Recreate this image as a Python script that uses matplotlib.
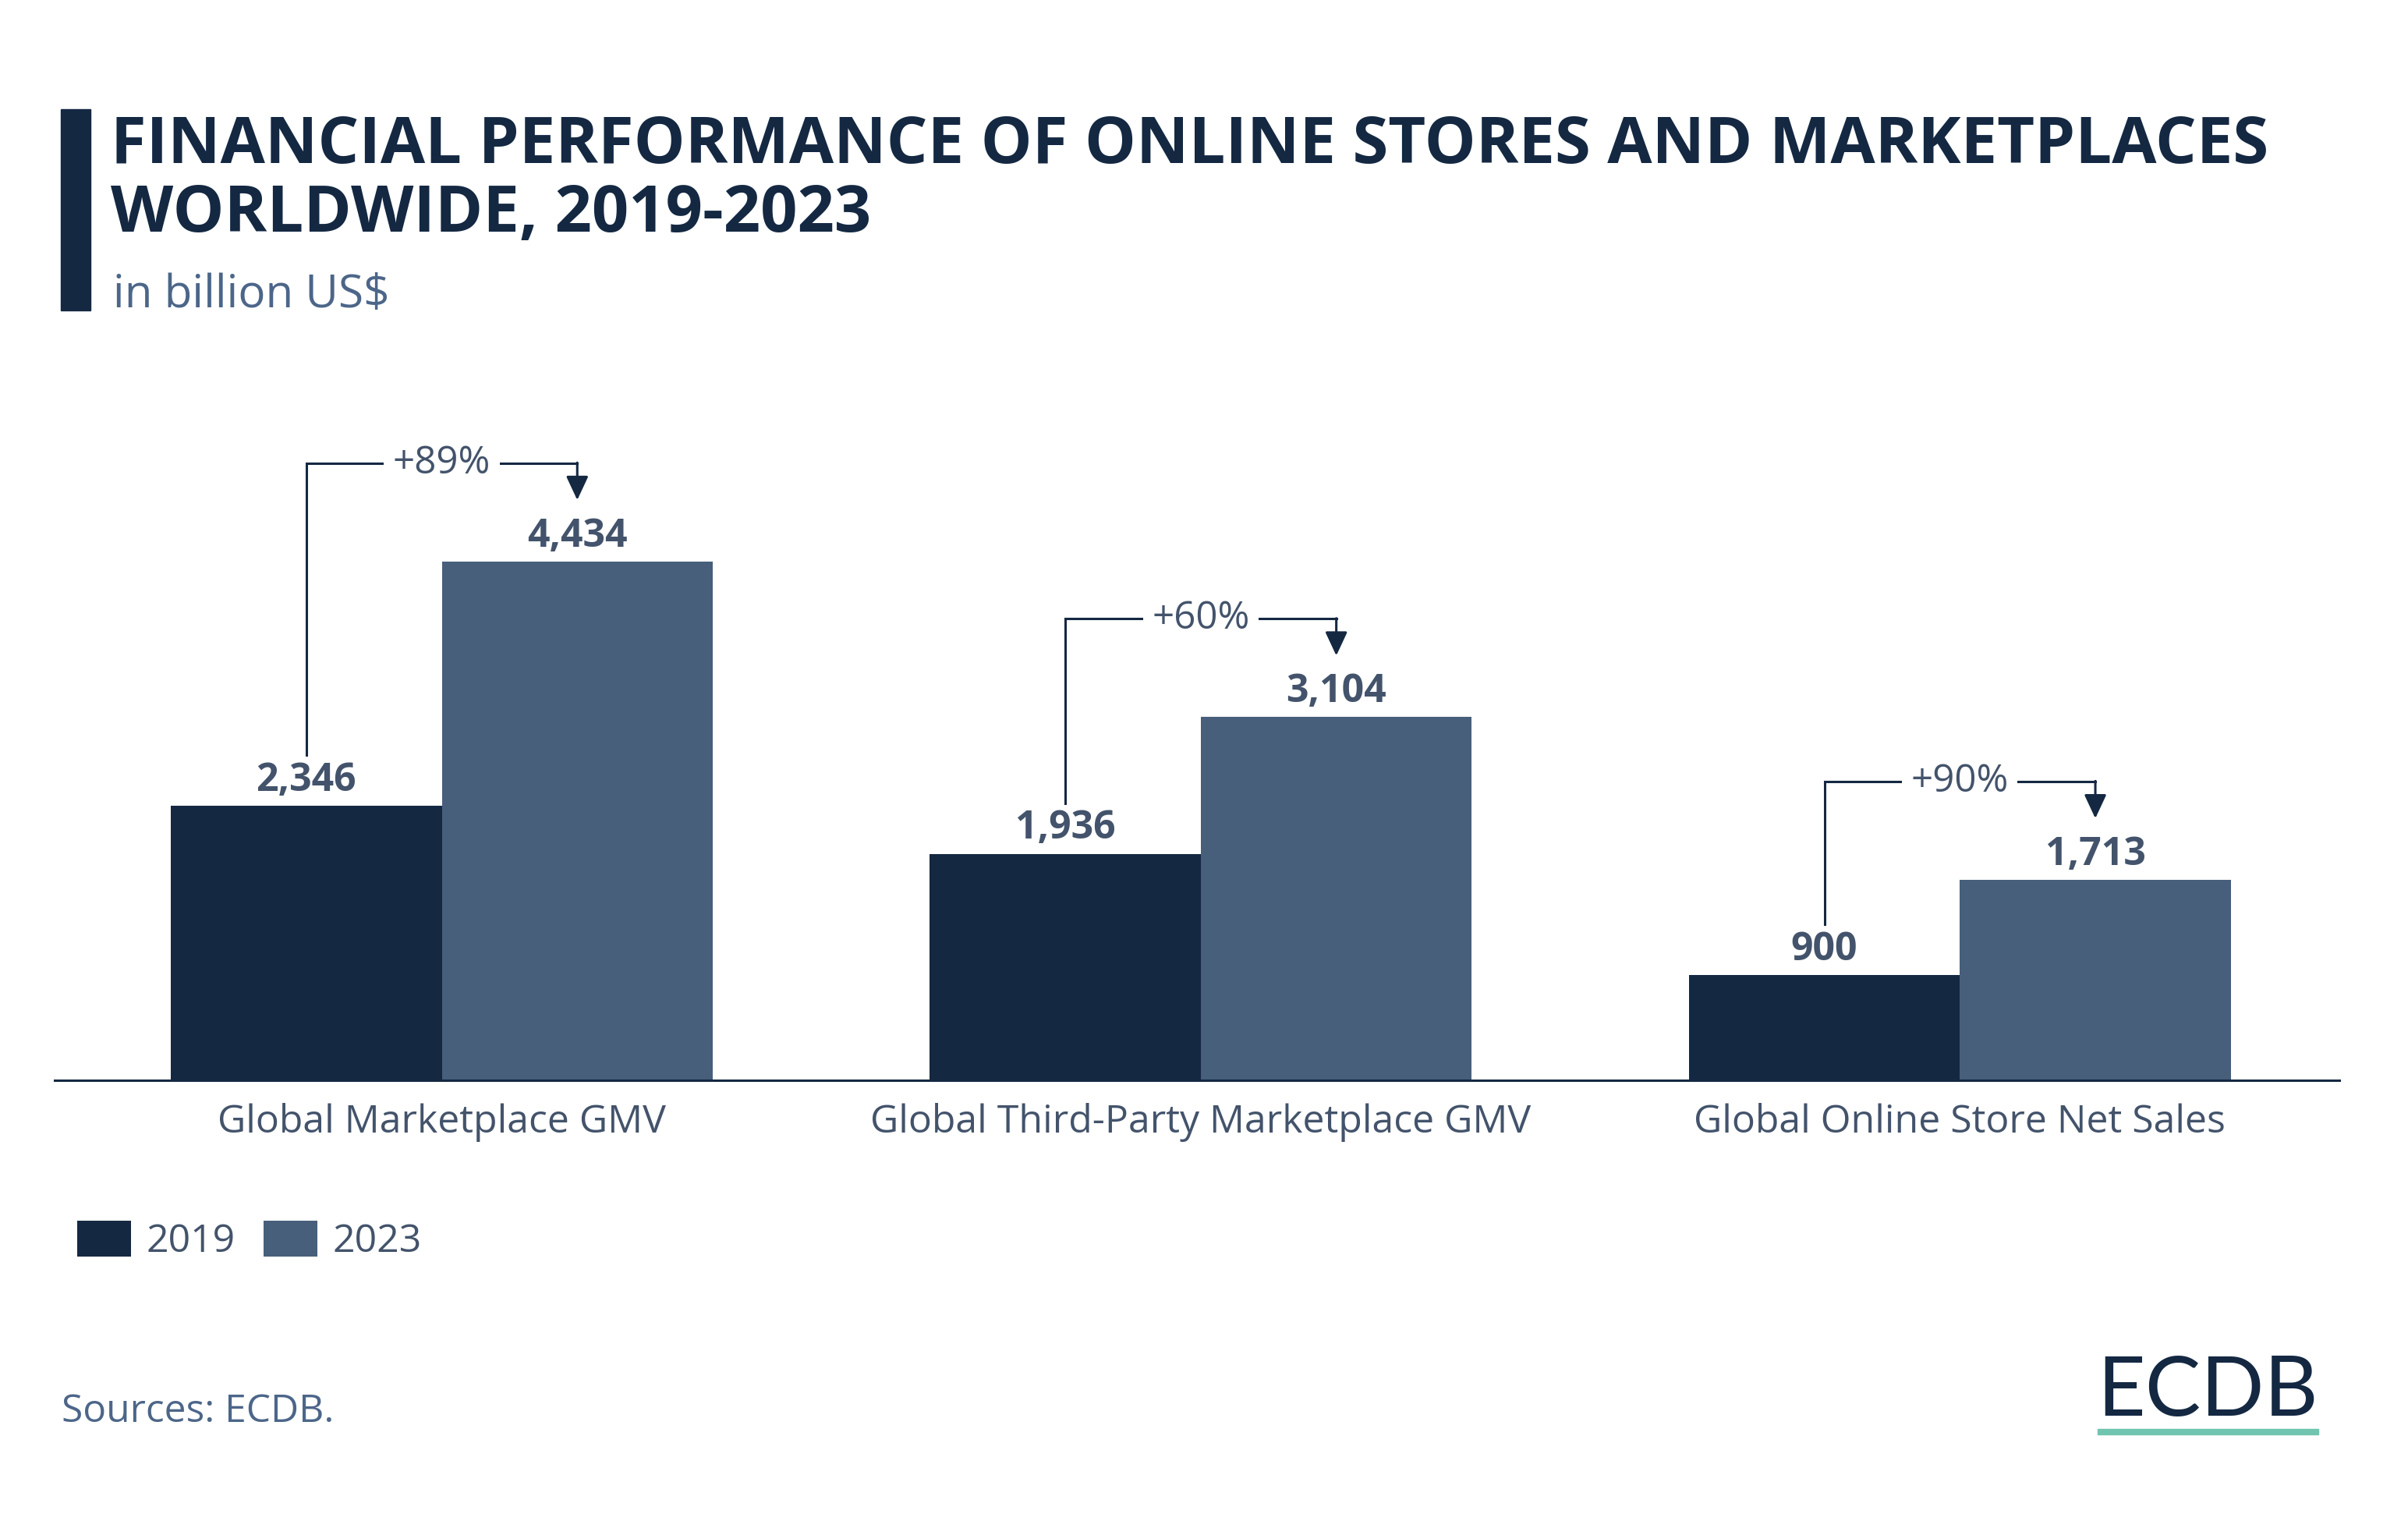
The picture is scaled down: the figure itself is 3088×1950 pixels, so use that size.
import matplotlib.pyplot as plt
import matplotlib.patches as patches
import numpy as np

plt.rcParams['font.family'] = ['Open Sans', 'DejaVu Sans']

categories = ['Global Marketplace GMV', 'Global Third-Party Marketplace GMV',
              'Global Online Store Net Sales']
years = ['2019', '2023']
values_2019 = [2346, 1936, 900]
values_2023 = [4434, 3104, 1713]

NAVY = '#142842'
SLATE = '#475f7b'
LABEL = '#43536b'
SUB = '#4c6689'

fig = plt.figure(figsize=(30.88, 19.5), dpi=100)
ax = fig.add_axes([0.0227, 0.2897, 0.9488, 0.4231])

x = np.arange(len(categories))
w = 0.357
ax.bar(x - w / 2, values_2019, w, color=NAVY, label=years[0])
ax.bar(x + w / 2, values_2023, w, color=SLATE, label=years[1])

ax.set_xlim(-0.51, 2.5)
ax.set_ylim(0, 5500)

# value labels
for xi, v in zip(x - w / 2, values_2019):
    ax.annotate(f'{v:,}', (xi, v), xytext=(0, 14), textcoords='offset points',
                ha='center', va='baseline', fontsize=36, fontweight='bold', color=LABEL)
for xi, v in zip(x + w / 2, values_2023):
    ax.annotate(f'{v:,}', (xi, v), xytext=(0, 14), textcoords='offset points',
                ha='center', va='baseline', fontsize=36, fontweight='bold', color=LABEL)

# growth brackets
for i, (a, b) in enumerate(zip(values_2019, values_2023)):
    x1, x2 = i - w / 2, i + w / 2
    top = b + 840
    ax.plot([x1, x1, x2], [a + 433, top, top], color=NAVY, lw=2.2,
            solid_joinstyle='miter', clip_on=False)
    ax.annotate('', xy=(x2, b + 526), xytext=(x2, top + 5),
                arrowprops=dict(arrowstyle='-|>,head_length=0.75,head_width=0.35',
                                mutation_scale=25, color=NAVY, lw=2.2,
                                shrinkA=0, shrinkB=0))
    pct = round((b / a - 1) * 100)
    ax.text(i, top, f'+{pct}%', ha='center', va='center', fontsize=35.5, color=LABEL,
            bbox=dict(facecolor='white', edgecolor='none', pad=8))

for s in ['top', 'right', 'left']:
    ax.spines[s].set_visible(False)
ax.spines['bottom'].set_color(NAVY)
ax.spines['bottom'].set_linewidth(2.2)
ax.set_yticks([])
ax.set_xticks(x)
ax.set_xticklabels(categories, fontsize=36, color=LABEL)
ax.tick_params(axis='x', length=0, pad=21)

leg = ax.legend(loc='upper left', bbox_to_anchor=(0.032, 0.1973),
                bbox_transform=fig.transFigure, ncol=2, frameon=False,
                fontsize=36, handlelength=1.38, handleheight=1.04,
                handletextpad=0.4, columnspacing=0.72, borderaxespad=0, borderpad=0)
for t in leg.get_texts():
    t.set_color(LABEL)

# title block
fig.add_artist(patches.Rectangle((0.0253, 0.7959), 0.0123, 0.1323,
                                 transform=fig.transFigure, color=NAVY))
fig.text(0.046, 0.8928, 'FINANCIAL PERFORMANCE OF ONLINE STORES AND MARKETPLACES',
         fontsize=59.8, fontweight='bold', color=NAVY, va='baseline')
fig.text(0.046, 0.8477, 'WORLDWIDE, 2019-2023',
         fontsize=59.8, fontweight='bold', color=NAVY, va='baseline')
fig.text(0.047, 0.798, 'in billion US$', fontsize=42, color=SUB, va='baseline')

fig.text(0.0256, 0.065, 'Sources: ECDB.', fontsize=35.8, color=SUB, va='baseline')

fig.text(0.9628, 0.069, 'ECDB', fontsize=77, color=NAVY, ha='right', va='baseline',
         family=['Lato', 'DejaVu Sans'])
fig.add_artist(patches.Rectangle((0.8711, 0.0569), 0.0916, 0.0036,
                                 transform=fig.transFigure, color='#6fc5b0'))

fig.savefig('out.png', dpi=100, facecolor='white')
